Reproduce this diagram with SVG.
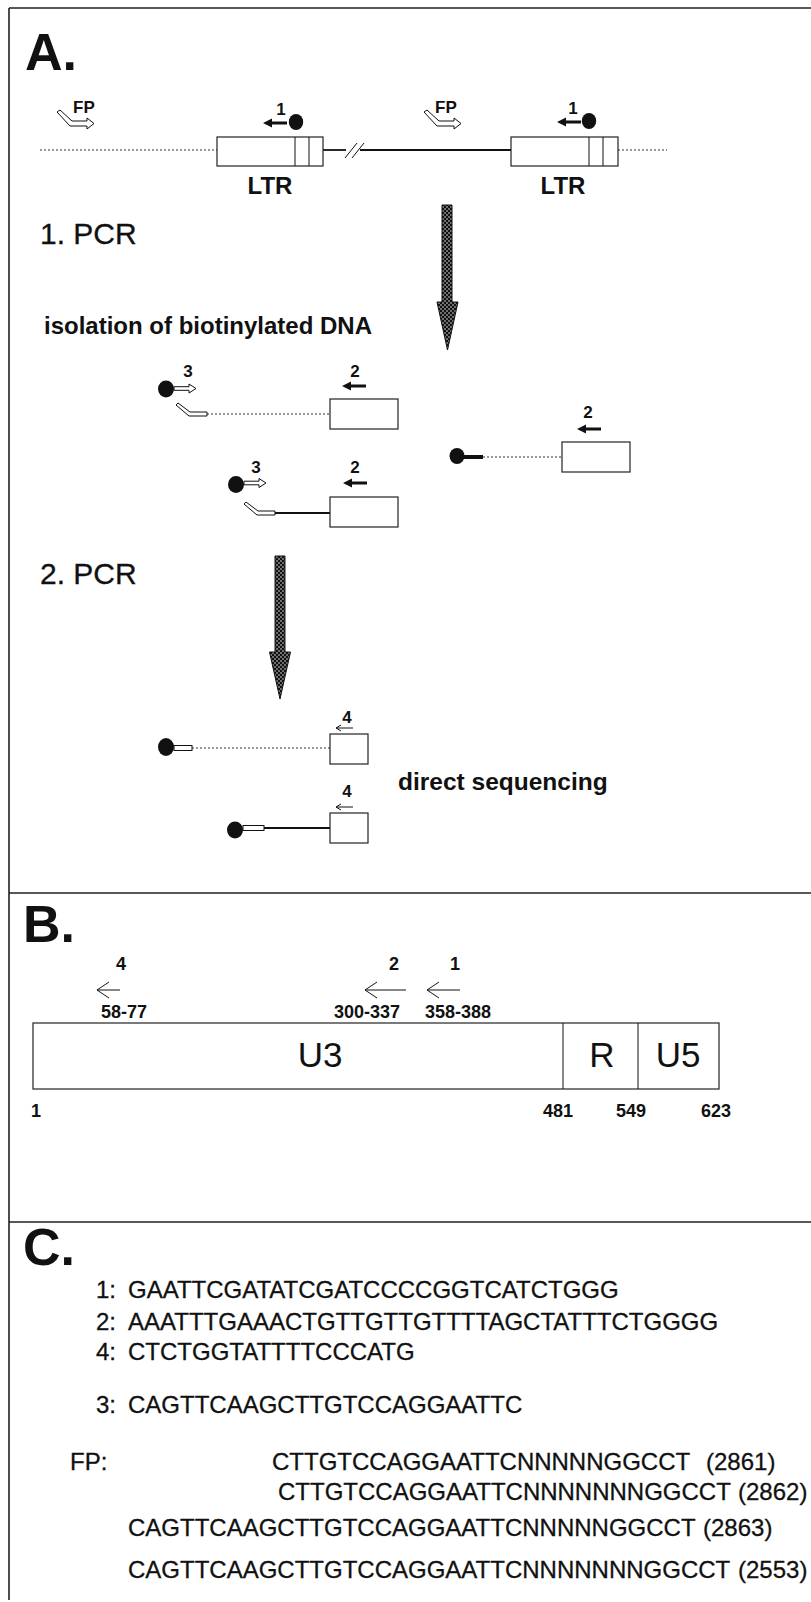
<svg xmlns="http://www.w3.org/2000/svg" width="811" height="1602" viewBox="0 0 811 1602">
<defs>
<pattern id="stip" width="4" height="4" patternUnits="userSpaceOnUse">
<rect width="4" height="4" fill="#111"/>
<circle cx="1" cy="1" r="0.75" fill="#fff"/>
<circle cx="3" cy="3" r="0.75" fill="#fff"/>
</pattern>
<style>
.t{font-family:"Liberation Sans",Arial,Helvetica,sans-serif;fill:#111}
.b{font-weight:bold}
.big{font-size:52px;font-weight:bold}
.lbl{font-size:17px;font-weight:bold;text-anchor:middle}
.seq{font-size:24px;stroke:#111;stroke-width:0.3}
.pcr{font-size:30px;stroke:#111;stroke-width:0.3}
.num{font-size:18px;font-weight:bold;text-anchor:middle}
.frame{stroke:#222;stroke-width:1.6;fill:none}
.box{fill:#fff;stroke:#222;stroke-width:1.2}
.dot{stroke:#333;stroke-width:1;stroke-dasharray:2 2;fill:none}
.solid{stroke:#111;stroke-width:1.8;fill:none}
.thin{stroke:#111;stroke-width:1;fill:none}
.hol{fill:#fff;stroke:#111;stroke-width:1}
.ball{fill:#111}
.fill{fill:#111}
.bigarrow{fill:url(#stip);stroke:#111;stroke-width:1}
</style>
<path id="fpglyph" class="hol" d="M-14,-14 L-11,-16 L1,-5 L16,-5 L16,-8 L23,-2.5 L16,3 L16,0 L-1,0 Z"/>
<path id="bent" class="hol" d="M-14,-11 L-12,-13 L0,-4 L17,-4 L17,0 L-1,0 Z"/>
<path id="hollowarrow" class="hol" d="M0,-1.8 L15,-1.8 L15,-4.5 L22,0 L15,4.5 L15,1.8 L0,1.8 Z"/>
<path id="solidarrow" class="fill" d="M0,0 L9,-4.5 L9,-1.6 L24,-1.6 L24,1.6 L9,1.6 L9,4.5 Z"/>
<path id="smallarrow" class="thin" d="M0,0 L17,0 M0,0 L5,-3 M0,0 L5,3"/>
<path id="openarrow" class="thin" d="M0,0 L23,0 M0,0 L12,-8 M0,0 L12,8"/>
</defs>
<rect width="811" height="1602" fill="#fff"/>

<g id="frame">
<path class="frame" d="M9,8 L811,8 M9,8 L9,1600 M9,893 L811,893 M9,1222 L811,1222"/>
</g>

<g id="panelA-title"><text class="t big" x="25" y="70">A.</text></g>

<g id="connectors">
<line class="dot" x1="40" y1="150" x2="217" y2="150"/>
<line class="solid" x1="323" y1="150" x2="346" y2="150"/>
<line class="solid" x1="360" y1="150" x2="511" y2="150"/>
<line class="thin" x1="345" y1="158" x2="357" y2="143"/>
<line class="thin" x1="352" y1="158" x2="364" y2="143"/>
<line class="dot" x1="618" y1="150" x2="667" y2="150"/>
<line class="dot" x1="207" y1="414" x2="330" y2="414"/>
<line class="solid" x1="274" y1="513" x2="330" y2="513"/>
<line class="dot" x1="483" y1="457" x2="562" y2="457"/>
<line class="dot" x1="192" y1="748" x2="330" y2="748"/>
<line class="solid" x1="264" y1="828" x2="330" y2="828"/>
</g>

<g id="ltr-left">
<rect class="box" x="217" y="137" width="106" height="29"/>
<line class="thin" x1="295" y1="137" x2="295" y2="166"/>
<line class="thin" x1="309" y1="137" x2="309" y2="166"/>
<text class="t b" x="270" y="194" font-size="24" text-anchor="middle">LTR</text>
</g>
<g id="ltr-right">
<rect class="box" x="511" y="137" width="107" height="29"/>
<line class="thin" x1="589" y1="137" x2="589" y2="166"/>
<line class="thin" x1="603" y1="137" x2="603" y2="166"/>
<text class="t b" x="563" y="194" font-size="24" text-anchor="middle">LTR</text>
</g>

<g id="fp-left">
<use href="#fpglyph" x="71" y="126"/>
<text class="t b" x="73" y="113" font-size="17">FP</text>
</g>
<g id="fp-middle">
<use href="#fpglyph" x="438" y="126"/>
<text class="t b" x="435" y="113" font-size="17">FP</text>
</g>

<g id="primer1-left">
<use href="#solidarrow" x="263" y="123"/>
<ellipse class="ball" cx="296" cy="122" rx="7.2" ry="8"/>
<text class="t lbl" x="281" y="115">1</text>
</g>
<g id="primer1-right">
<use href="#solidarrow" x="557" y="122"/>
<ellipse class="ball" cx="589" cy="121" rx="7.2" ry="8"/>
<text class="t lbl" x="573" y="114">1</text>
</g>

<g id="pcr1-label"><text class="t pcr" x="40" y="244">1. PCR</text></g>
<g id="arrow1"><path class="bigarrow" d="M442,205 L452,205 L452,302 L458,302 L447.5,350 L437,302 L442,302 Z"/></g>
<g id="isolation-label"><text class="t b" x="44" y="334" font-size="24">isolation of biotinylated DNA</text></g>

<g id="frag1">
<text class="t lbl" x="188" y="377">3</text>
<ellipse class="ball" cx="166" cy="389" rx="8" ry="8.5"/>
<use href="#hollowarrow" x="174" y="388.5"/>
<use href="#bent" x="190" y="416"/>
<rect class="box" x="330" y="399" width="68" height="30"/>
<text class="t lbl" x="355" y="377">2</text>
<use href="#solidarrow" x="342" y="386"/>
</g>

<g id="frag2">
<text class="t lbl" x="256" y="473">3</text>
<ellipse class="ball" cx="236" cy="484.5" rx="8" ry="8.5"/>
<use href="#hollowarrow" x="244" y="483"/>
<use href="#bent" x="258" y="515"/>
<rect class="box" x="330" y="497" width="68" height="30"/>
<text class="t lbl" x="355" y="473">2</text>
<use href="#solidarrow" x="343" y="483"/>
</g>

<g id="frag3">
<ellipse class="ball" cx="457" cy="456" rx="7.5" ry="8"/>
<rect class="fill" x="463" y="455" width="20" height="4"/>
<rect class="box" x="562" y="442" width="68" height="30"/>
<text class="t lbl" x="588" y="418">2</text>
<use href="#solidarrow" x="577" y="429"/>
</g>

<g id="pcr2-label"><text class="t pcr" x="40" y="584">2. PCR</text></g>
<g id="arrow2"><path class="bigarrow" d="M275,556 L285,556 L285,652 L290.5,652 L280,699 L269.5,652 L275,652 Z"/></g>

<g id="frag4">
<ellipse class="ball" cx="166" cy="747" rx="8" ry="9"/>
<rect class="hol" x="174" y="745.5" width="18" height="5"/>
<rect class="box" x="330" y="734" width="38" height="30"/>
<text class="t lbl" x="347" y="723">4</text>
<use href="#smallarrow" x="336" y="728"/>
</g>
<g id="frag5">
<ellipse class="ball" cx="235" cy="830" rx="8" ry="8.5"/>
<rect class="hol" x="243" y="825.5" width="21" height="5"/>
<rect class="box" x="330" y="813" width="38" height="30"/>
<text class="t lbl" x="347" y="797">4</text>
<use href="#smallarrow" x="336" y="807"/>
</g>
<g id="direct-label"><text class="t b" x="398" y="790" font-size="24.5">direct sequencing</text></g>

<g id="panelB-title"><text class="t big" x="23" y="942">B.</text></g>

<g id="ltr-map">
<rect class="box" x="33" y="1023" width="686" height="66"/>
<line class="thin" x1="563" y1="1023" x2="563" y2="1089"/>
<line class="thin" x1="638" y1="1023" x2="638" y2="1089"/>
<text class="t" x="320" y="1067" font-size="35" text-anchor="middle">U3</text>
<text class="t" x="602" y="1067" font-size="35" text-anchor="middle">R</text>
<text class="t" x="678" y="1067" font-size="35" text-anchor="middle">U5</text>
<text class="t num" x="36" y="1117">1</text>
<text class="t num" x="558" y="1117">481</text>
<text class="t num" x="631" y="1117">549</text>
<text class="t num" x="716" y="1117">623</text>
</g>

<g id="primer4-map">
<text class="t num" x="121" y="970">4</text>
<use href="#openarrow" x="97" y="990"/>
<text class="t num" x="124" y="1018">58-77</text>
</g>
<g id="primer2-map">
<text class="t num" x="394" y="970">2</text>
<path class="thin" d="M365,990 L406,990 M365,990 L377,982 M365,990 L377,998"/>
<text class="t num" x="367" y="1018">300-337</text>
</g>
<g id="primer1-map">
<text class="t num" x="455" y="970">1</text>
<path class="thin" d="M427,990 L460,990 M427,990 L439,982 M427,990 L439,998"/>
<text class="t num" x="458" y="1018">358-388</text>
</g>

<g id="panelC-title"><text class="t big" x="23" y="1265">C.</text></g>

<g id="sequences">
<text class="t seq" x="96" y="1298">1:</text>
<text class="t seq" x="128" y="1298">GAATTCGATATCGATCCCCGGTCATCTGGG</text>
<text class="t seq" x="96" y="1330">2:</text>
<text class="t seq" x="128" y="1330">AAATTTGAAACTGTTGTTGTTTTAGCTATTTCTGGGG</text>
<text class="t seq" x="96" y="1360">4:</text>
<text class="t seq" x="128" y="1360">CTCTGGTATTTTCCCATG</text>
<text class="t seq" x="96" y="1413">3:</text>
<text class="t seq" x="128" y="1413">CAGTTCAAGCTTGTCCAGGAATTC</text>
<text class="t seq" x="70" y="1470">FP:</text>
<text class="t seq" x="272" y="1470">CTTGTCCAGGAATTCNNNNNGGCCT</text>
<text class="t seq" x="706" y="1470">(2861)</text>
<text class="t seq" x="278" y="1500">CTTGTCCAGGAATTCNNNNNNNGGCCT</text>
<text class="t seq" x="738" y="1500">(2862)</text>
<text class="t seq" x="128" y="1536">CAGTTCAAGCTTGTCCAGGAATTCNNNNNGGCCT</text>
<text class="t seq" x="703" y="1536">(2863)</text>
<text class="t seq" x="128" y="1578">CAGTTCAAGCTTGTCCAGGAATTCNNNNNNNGGCCT</text>
<text class="t seq" x="738" y="1578">(2553)</text>
</g>
</svg>
